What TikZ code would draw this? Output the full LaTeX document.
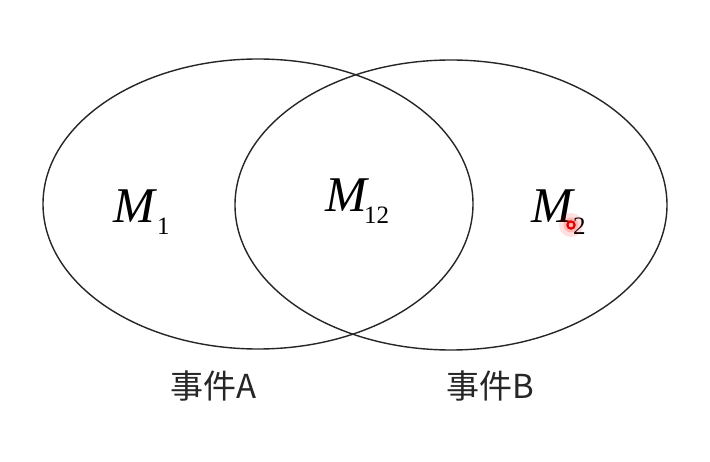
\documentclass[tikz,border=0pt]{standalone}
\usepackage{fontspec}
\setmainfont{Liberation Serif}
\newfontfamily\cjk{Noto Sans CJK SC}
\usetikzlibrary{shapes.geometric}
\tikzset{
  setbox/.style={ellipse, draw=black!85, line width=1.4pt, inner sep=0pt, outer sep=0pt,
                 minimum width=430pt, minimum height=290pt},
  mlabel/.style={anchor=base west, inner sep=0pt, font=\fontsize{50}{50}\selectfont},
  evlabel/.style={anchor=center, inner sep=0pt, font=\cjk\fontsize{33}{33}\selectfont, text=black!85},
}
\newcommand{\mysub}[1]{\raisebox{-12pt}{\fontsize{25}{25}\selectfont #1}}
\begin{document}
\begin{tikzpicture}[x=1pt,y=-1pt]
  \useasboundingbox (0,0) rectangle (710,462);
  \fill[white] (0,0) rectangle (710,462);
  \node[setbox] (A) at (258,204) {};
  \node[setbox, minimum width=432pt] (B) at (451,205) {};
  \node[mlabel] (m1) at (113,223) {\textit{M}\kern0pt\mysub{1}};
  \node[mlabel] (m12) at (325,212) {\textit{M}\kern-5pt\mysub{12}};
  \node[mlabel] (m2) at (531,223) {\textit{M}\kern-2pt\mysub{2}};
  \node[evlabel] (ea) at (214,386) {事件A};
  \node[evlabel] (eb) at (490,386) {事件B};
  % laser pointer dot
  \fill[red, opacity=0.12] (571,225) circle (12);
  \fill[red, opacity=0.18] (571,225) circle (7.5);
  \draw[red!90!black, line width=2.2pt] (571,225) circle (3.6);
\end{tikzpicture}
\end{document}
